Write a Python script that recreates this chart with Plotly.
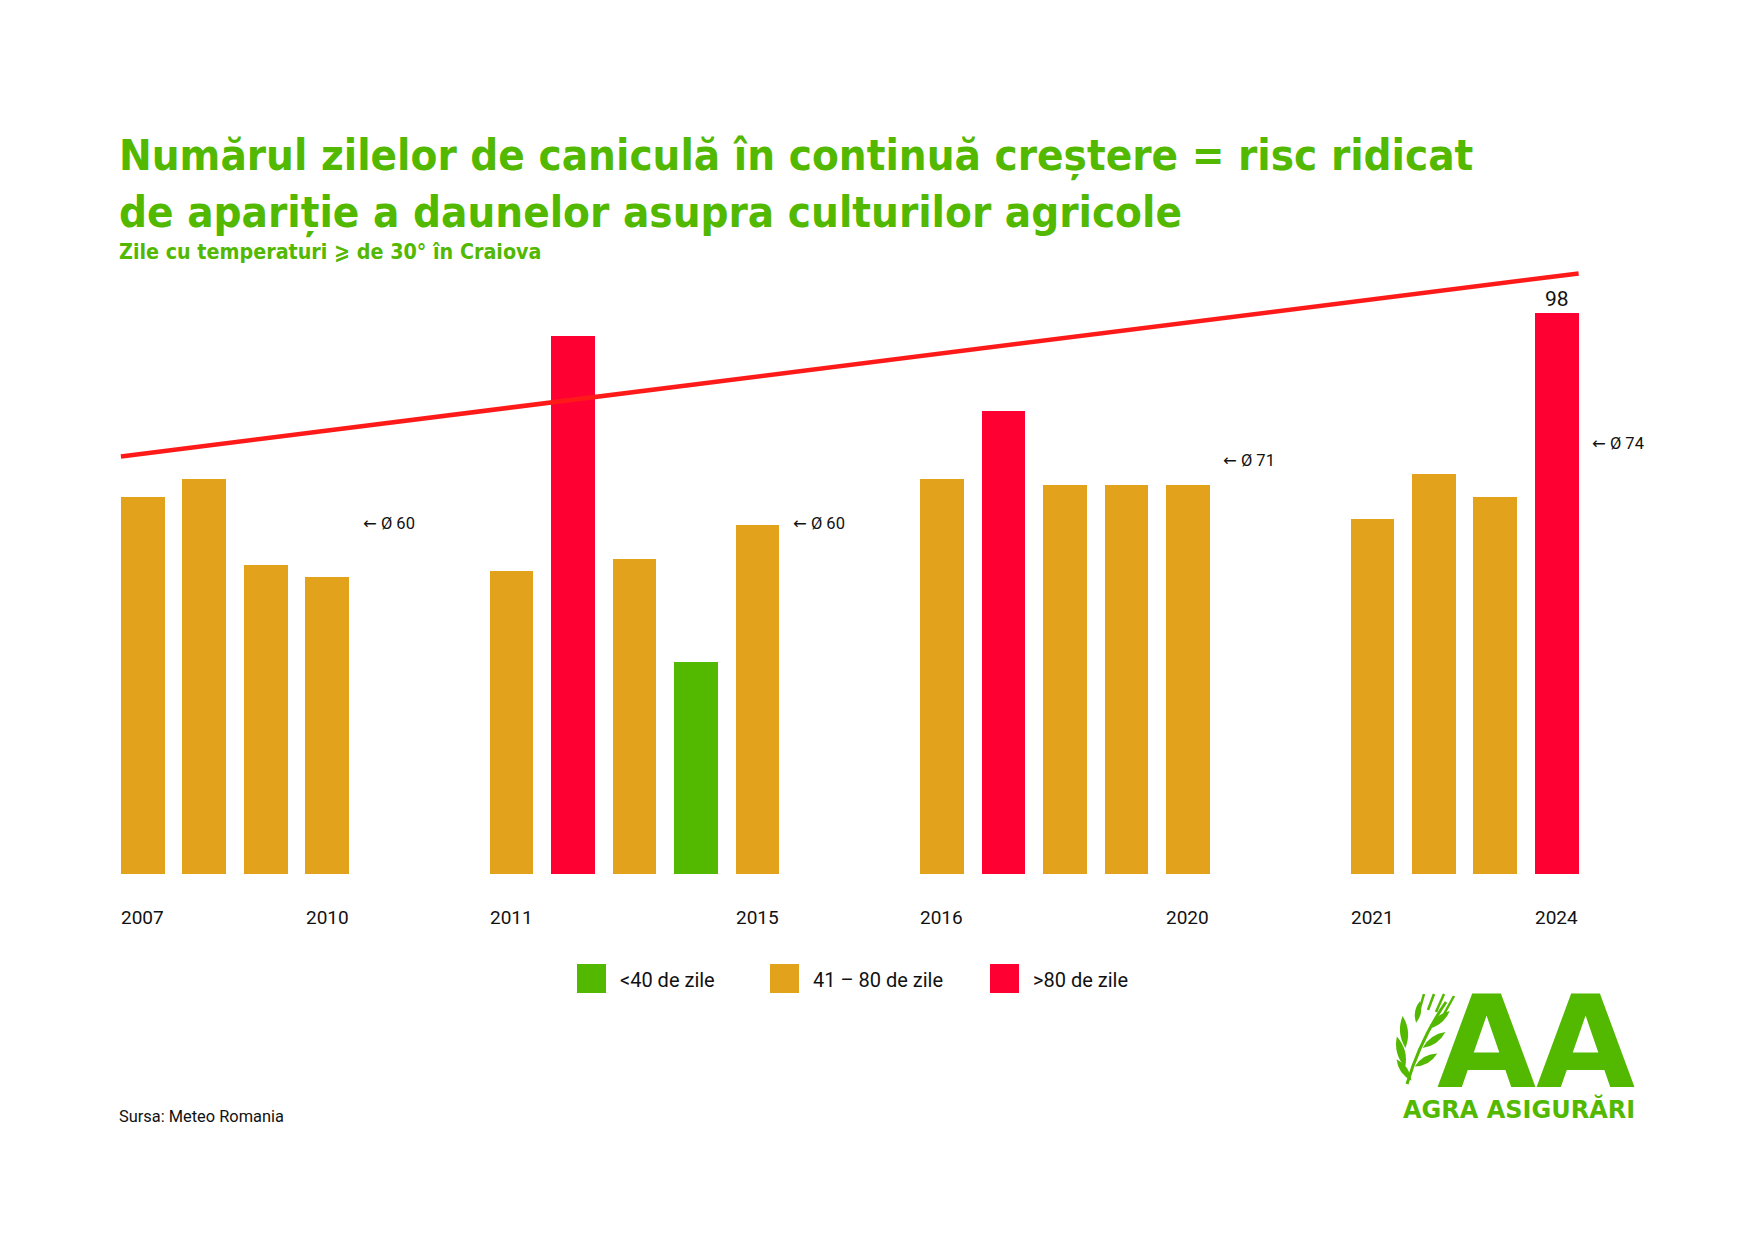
import math
import plotly.graph_objects as go

# ---------------- data ----------------
years = list(range(2007, 2025))
days = [66, 69, 54, 52, 53, 94, 55, 37, 61, 69, 81, 68, 68, 68, 62, 70, 66, 98]
periods = [(2007, 2010), (2011, 2015), (2016, 2020), (2021, 2024)]
period_avgs = [60, 60, 71, 74]
trend_values = [73, 105]
value_label_year = 2024
legend_labels = ["<40 de zile", "41 – 80 de zile", ">80 de zile"]
title_lines = ["Numărul zilelor de caniculă în continuă creștere = risc ridicat",
               "de apariție a daunelor asupra culturilor agricole"]
subtitle = "Zile cu temperaturi ⩾ de 30° în Craiova"
source = "Sursa: Meteo Romania"
logo_big = "AA"
logo_name = "AGRA ASIGURĂRI"

# ---------------- style ----------------
GREEN = "#52B800"
ORANGE = "#E3A21B"
RED = "#FF0033"
LINE_RED = "#FF1A1A"
CAT_COLORS = [GREEN, ORANGE, RED]
TXT = "#111111"
TITLE_FONT = "Liberation Sans Narrow, DejaVu Sans Condensed, Roboto, sans-serif"
BODY_FONT = "Roboto, DejaVu Sans, sans-serif"
TITLE_SIZE = 43.5

W, H = 1754, 1240
L, R, T, B = 112, 105, 262, 366
PW, PH = W - L - R, H - T - B
GAP = 2
BW = 0.71


def px(xp):
    return (xp - L) / PW


def py(yp):
    return (H - B - yp) / PH


# slot positions
pos = {}
label_slots = []
slot = 0
for a, b in periods:
    for yr in range(a, b + 1):
        pos[yr] = slot
        slot += 1
    label_slots.append(slot)
    slot += GAP
xs = [pos[y] for y in years]


def cat(v):
    if v <= 40:
        return 0
    if v <= 80:
        return 1
    return 2


colors = [CAT_COLORS[cat(v)] for v in days]

fig = go.Figure()
fig.add_trace(go.Bar(x=xs, y=days, width=BW, marker=dict(color=colors, line=dict(width=0)),
                     showlegend=False, hoverinfo="skip"))
fig.add_trace(go.Scatter(x=[xs[0] - BW / 2, xs[-1] + BW / 2], y=trend_values, mode="lines",
                         line=dict(color=LINE_RED, width=4.5), showlegend=False, hoverinfo="skip"))

ann = []
shapes = []

# year labels (first and last of each period)
for a, b in periods:
    for yr in (a, b):
        ann.append(dict(x=pos[yr], y=0, xref="x", yref="y", text=str(yr), showarrow=False,
                        yshift=-43, yanchor="middle", xanchor="center",
                        font=dict(family=BODY_FONT, size=19, color=TXT)))

# average labels
for s, avg in zip(label_slots, period_avgs):
    ann.append(dict(x=s, y=avg, xref="x", yref="y", text=f"← Ø {avg}", showarrow=False,
                    yshift=7, xanchor="center", yanchor="middle",
                    font=dict(family=BODY_FONT, size=16.5, color=TXT)))

# value label
vi = years.index(value_label_year)
ann.append(dict(x=pos[value_label_year], y=days[vi], xref="x", yref="y", text=str(days[vi]),
                showarrow=False, yanchor="bottom", yshift=0,
                font=dict(family=BODY_FONT, size=21, color=TXT)))

# titles
ann.append(dict(x=px(117), y=py(170 - 0.34 * TITLE_SIZE), xref="paper", yref="paper", text=title_lines[0],
                showarrow=False, xanchor="left", yanchor="middle",
                font=dict(family=TITLE_FONT, size=TITLE_SIZE, color=GREEN, weight="bold")))
ann.append(dict(x=px(117), y=py(227 - 0.34 * TITLE_SIZE), xref="paper", yref="paper", text=title_lines[1],
                showarrow=False, xanchor="left", yanchor="middle",
                font=dict(family=TITLE_FONT, size=TITLE_SIZE, color=GREEN, weight="bold")))
ann.append(dict(x=px(117), y=py(259 - 7.5), xref="paper", yref="paper", text=subtitle,
                showarrow=False, xanchor="left", yanchor="middle",
                font=dict(family=TITLE_FONT, size=21.3, color=GREEN, weight="bold")))

# legend
leg_sq_x = [577, 770, 990]
for lx, lab, col in zip(leg_sq_x, legend_labels, CAT_COLORS):
    shapes.append(dict(type="rect", xref="paper", yref="paper", x0=px(lx), x1=px(lx + 29),
                       y0=py(993), y1=py(964), fillcolor=col, line=dict(width=0)))
    ann.append(dict(x=px(lx + 41), y=py(980), xref="paper", yref="paper", text=lab,
                    showarrow=False, xanchor="left", yanchor="middle",
                    font=dict(family=BODY_FONT, size=20, color=TXT)))

# source
ann.append(dict(x=px(117), y=py(1116), xref="paper", yref="paper", text=source,
                showarrow=False, xanchor="left", yanchor="middle",
                font=dict(family=BODY_FONT, size=16.4, color=TXT)))

# logo (one text block: big "AA" over the company name)
ann.append(dict(x=px(1637), y=py(1126), xref="paper", yref="paper",
                text=f"<span style='font-size:128px'>{logo_big}</span><br>{logo_name}",
                showarrow=False, xanchor="right", yanchor="bottom", align="right",
                font=dict(family="DejaVu Sans, sans-serif", size=24, color=GREEN, weight="bold")))


def leaf(cx, cy, length, width, ang):
    a = math.radians(ang)
    dx, dy = math.cos(a), -math.sin(a)
    nx, ny = -dy, dx
    p1 = (cx - dx * length / 2, cy - dy * length / 2)
    p2 = (cx + dx * length / 2, cy + dy * length / 2)
    c1 = (cx + nx * width, cy + ny * width)
    c2 = (cx - nx * width, cy - ny * width)
    f = lambda p: f"{px(p[0]):.5f},{py(p[1]):.5f}"
    return f"M {f(p1)} Q {f(c1)} {f(p2)} Q {f(c2)} {f(p1)} Z"


leaves = [(1404, 1032, 32, 8, 95), (1401, 1052, 32, 8, 105), (1404, 1070, 26, 7, 125),
          (1439, 1020, 28, 7, 40), (1434, 1040, 28, 7, 35), (1426, 1060, 26, 7, 30),
          (1418, 1012, 22, 6, 80)]
for lf in leaves:
    shapes.append(dict(type="path", xref="paper", yref="paper", path=leaf(*lf),
                       fillcolor=GREEN, line=dict(width=0)))
stem = f"M {px(1407):.5f},{py(1084):.5f} Q {px(1420):.5f},{py(1040):.5f} {px(1446):.5f},{py(1002):.5f}"
shapes.append(dict(type="path", xref="paper", yref="paper", path=stem,
                   line=dict(color=GREEN, width=3)))
for ax0, ay0, ax1, ay1 in [(1420, 1008, 1424, 994), (1428, 1010, 1434, 994),
                           (1436, 1012, 1444, 994), (1444, 1014, 1454, 996)]:
    shapes.append(dict(type="line", xref="paper", yref="paper", x0=px(ax0), y0=py(ay0),
                       x1=px(ax1), y1=py(ay1), line=dict(color=GREEN, width=2.5)))

fig.update_layout(
    width=W, height=H, autosize=False,
    margin=dict(l=L, r=R, t=T, b=B, pad=0),
    paper_bgcolor="white", plot_bgcolor="white",
    xaxis=dict(range=[-0.5, label_slots[-1] + 0.5], visible=False, fixedrange=True),
    yaxis=dict(range=[0, 107], visible=False, fixedrange=True),
    bargap=0, annotations=ann, shapes=shapes, showlegend=False,
)

fig.write_html("out.html")
